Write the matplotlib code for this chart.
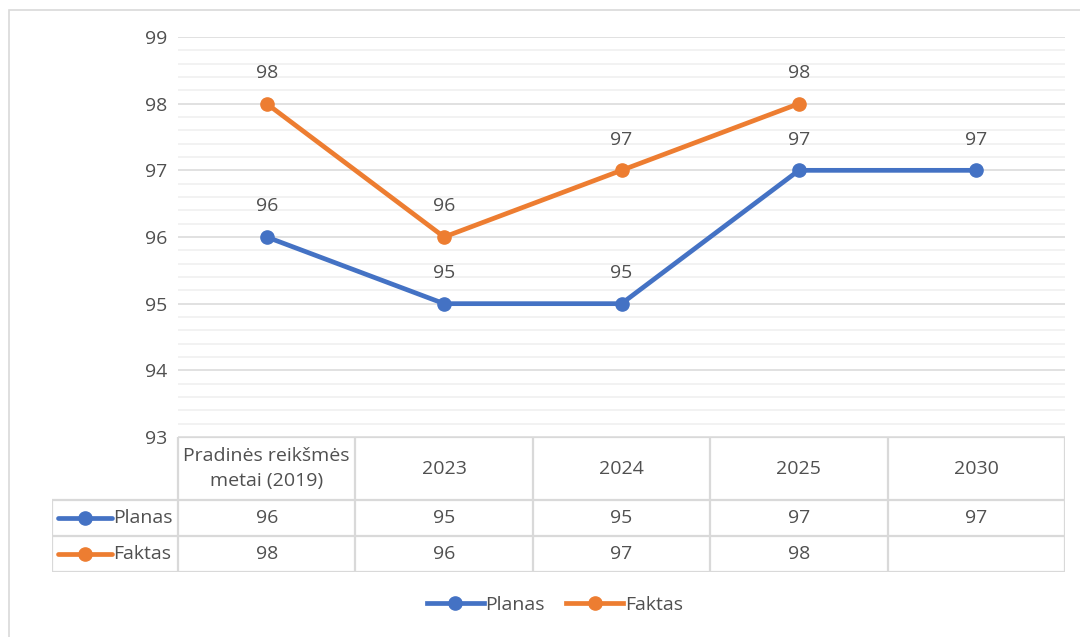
import matplotlib.pyplot as plt
from matplotlib.lines import Line2D
from matplotlib.patches import Rectangle
from matplotlib.ticker import MultipleLocator
import numpy as np

# duomenys
categories = ["Pradinės reikšmės\nmetai (2019)", "2023", "2024", "2025", "2030"]
planas = [96, 95, 95, 97, 97]
faktas = [98, 96, 97, 98, None]
series_names = ["Planas", "Faktas"]
colors = ["#4472C4", "#ED7D31"]

plt.rcParams['font.family'] = ['Open Sans', 'DejaVu Sans']
txt_color = "#505050"
grid_major = "#d9d9d9"
grid_minor = "#efefef"
fs = 14

W, H = 1080, 637
fig = plt.figure(figsize=(W / 100, H / 100), dpi=100)

# rėmelis aplink diagramą
fig.add_artist(Rectangle((9 / W, -0.05), 1.1, 1 - 10 / H + 0.05, transform=fig.transFigure,
                         fill=False, edgecolor=grid_major, lw=1.2))

# pagrindinė ašis
x0, x1, ytop, ybot = 178, 1065, 37, 437
ax = fig.add_axes([x0 / W, 1 - ybot / H, (x1 - x0) / W, (ybot - ytop) / H])
ax.set_xlim(-0.5, len(categories) - 0.5)
ax.set_ylim(93, 99)
ax.yaxis.set_major_locator(MultipleLocator(1))
ax.yaxis.set_minor_locator(MultipleLocator(0.2))
ax.grid(which='major', axis='y', color=grid_major, lw=1.1)
ax.grid(which='minor', axis='y', color=grid_minor, lw=1.1)
ax.set_axisbelow(True)
for s in ax.spines.values():
    s.set_visible(False)
ax.tick_params(axis='both', which='both', length=0)
ax.tick_params(axis='y', labelsize=fs, labelcolor=txt_color, pad=8)
ax.set_xticks([])

xs = np.arange(len(categories))
for vals, name, c in zip([planas, faktas], series_names, colors):
    xv = [x for x, v in zip(xs, vals) if v is not None]
    yv = [v for v in vals if v is not None]
    ax.plot(xv, yv, color=c, lw=3.4, marker='o', ms=9.5, label=name, solid_capstyle='round',
            clip_on=False)
    for x, v in zip(xv, yv):
        ax.annotate(f"{v}", (x, v), xytext=(0, 22), textcoords='offset points',
                    ha='center', va='center', fontsize=fs, color=txt_color)

# duomenų lentelė
tx0, tbot = 52, 572
tab = fig.add_axes([tx0 / W, 1 - tbot / H, (x1 - tx0) / W, (tbot - ybot) / H])
colw = (x1 - x0) / len(categories)
left_edge = -0.5 - (x0 - tx0) / colw
tab.set_xlim(left_edge, len(categories) - 0.5)
tab.set_ylim(tbot, ybot)
tab.axis('off')
row_b = [437, 500, 536, 572]
lc = dict(color=grid_major, lw=1.6, solid_capstyle='butt')

# horizontalios linijos
tab.plot([-0.5, len(categories) - 0.5], [row_b[0]] * 2, **lc)
for yb in row_b[1:]:
    tab.plot([left_edge, len(categories) - 0.5], [yb] * 2, **lc)
# vertikalios linijos
tab.plot([left_edge] * 2, [row_b[1], row_b[3]], **lc)
for i in range(len(categories) + 1):
    tab.plot([i - 0.5] * 2, [row_b[0], row_b[3]], **lc)

for i, cat in enumerate(categories):
    tab.text(i, (row_b[0] + row_b[1]) / 2, cat, ha='center', va='center',
             fontsize=fs, color=txt_color, linespacing=1.45)
for r, (vals, name, c) in enumerate(zip([planas, faktas], series_names, colors)):
    yc = (row_b[r + 1] + row_b[r + 2]) / 2
    for i, v in enumerate(vals):
        if v is not None:
            tab.text(i, yc, f"{v}", ha='center', va='center', fontsize=fs, color=txt_color)
    # legendos raktas
    kx0 = left_edge + 6 / colw
    kx1 = left_edge + 60 / colw
    tab.add_line(Line2D([kx0, kx1], [yc, yc], color=c, lw=3.4, solid_capstyle='round'))
    tab.add_line(Line2D([(kx0 + kx1) / 2], [yc], color=c, marker='o', ms=9.5))
    tab.text(kx1 + 1 / colw, yc, name, ha='left', va='center', fontsize=fs, color=txt_color)

# legenda apačioje
handles = [Line2D([], [], color=c, lw=3.4, marker='o', ms=9.5) for c in colors]
fig.legend(handles, series_names, loc='center', bbox_to_anchor=(555 / W, 1 - 605 / H),
           ncol=2, frameon=False, fontsize=fs, labelcolor=txt_color,
           handlelength=2.9, handletextpad=0.1, columnspacing=1.1)

fig.savefig("out.png", dpi=100)
